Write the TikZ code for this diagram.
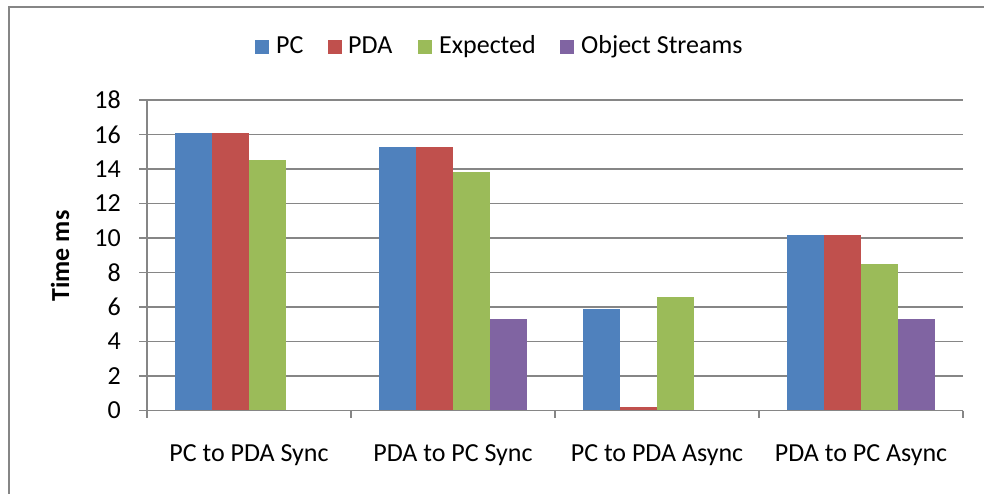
\documentclass[tikz,border=0pt]{standalone}
\usepackage{fontspec}
\setmainfont{Carlito}
\definecolor{pcblue}{HTML}{4F81BD}
\definecolor{pdared}{HTML}{C0504D}
\definecolor{expgreen}{HTML}{9BBB59}
\definecolor{objpurple}{HTML}{8064A2}
\definecolor{linegray}{HTML}{868686}
\begin{document}
\begin{tikzpicture}[x=1pt,y=1pt,
  frame/.style={draw=linegray,line width=1.5pt},
  gridline/.style={draw=linegray,line width=1.3pt},
  axisline/.style={draw=linegray,line width=1.3pt},
  lbl/.style={inner sep=0pt,font=\fontsize{26}{30}\selectfont},
  legbox/.style={inner sep=0pt,minimum size=14pt}]
\useasboundingbox (0,0) rectangle (984,493);
\clip (0,0) rectangle (984,493);
\fill[white] (0,0) rectangle (984,493);
% chart frame (runs past the page on the right and bottom)
\draw[frame] (9,-20) -- (9,486) -- (1010,486);

% plot area: x in pixels, y in data units
\begin{scope}[shift={(0,82.5)},y=17.25pt]
  \foreach \v in {2,4,...,18}
    \draw[gridline] (139,\v) -- (963,\v);
  % bars: category index, values PC / PDA / Expected
  \foreach \c/\a/\b/\e in {0/16.1/16.1/14.5,1/15.3/15.3/13.8,2/5.9/0.2/6.6,3/10.2/10.2/8.5}{
    \pgfmathsetmacro{\xs}{147+204*\c+28}
    \fill[pcblue]    (\xs,0) rectangle ++(37,\a);
    \fill[pdared]    (\xs+37,0) rectangle ++(37,\b);
    \fill[expgreen]  (\xs+74,0) rectangle ++(37,\e);
  }
  % Object Streams (only two categories have a value)
  \fill[objpurple] (147+204+139,0) rectangle ++(37,5.3);
  \fill[objpurple] (147+612+139,0) rectangle ++(37,5.3);
  \draw[axisline] (147,0) -- (147,18);
  \draw[axisline] (139,0) -- (963,0);
  \foreach \i in {0,...,4}
    \draw[axisline] (147+204*\i,0) -- (147+204*\i,-0.44);
  \foreach \v in {0,2,...,18}
    \node[lbl,anchor=east] (y\v) at (121,\v) {\v};
\end{scope}

% axis title
\node[lbl,rotate=90,font=\fontsize{26}{30}\selectfont\bfseries] (ytitle) at (60,237) {Time ms};

% category labels
\node[lbl,anchor=base] (c1) at (249,32) {PC to PDA Sync};
\node[lbl,anchor=base] (c2) at (453,32) {PDA to PC Sync};
\node[lbl,anchor=base] (c3) at (657,32) {PC to PDA Async};
\node[lbl,anchor=base] (c4) at (861,32) {PDA to PC Async};

% legend
\node[legbox,fill=pcblue,anchor=south west]    (k1) at (255,439) {};
\node[lbl,anchor=base west] (t1) at (276,439.7) {PC};
\node[legbox,fill=pdared,anchor=south west]    (k2) at (327.5,439) {};
\node[lbl,anchor=base west] (t2) at (348,439.7) {PDA};
\node[legbox,fill=expgreen,anchor=south west]  (k3) at (417.5,439) {};
\node[lbl,anchor=base west] (t3) at (439,439.7) {Expected};
\node[legbox,fill=objpurple,anchor=south west] (k4) at (559.5,439) {};
\node[lbl,anchor=base west] (t4) at (581,439.7) {Object Streams};
\end{tikzpicture}
\end{document}
